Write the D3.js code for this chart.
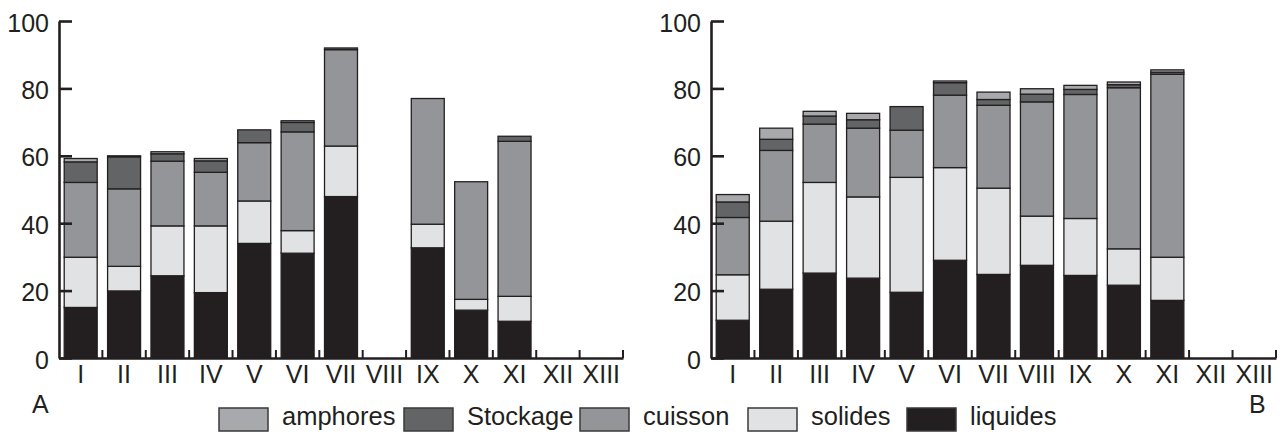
<!DOCTYPE html>
<html>
<head>
<meta charset="utf-8">
<script src="https://cdn.jsdelivr.net/npm/d3@7"></script>
<style>
  html, body { margin: 0; padding: 0; background: #fff; }
  svg { display: block; font-family: "Liberation Sans", Arial, sans-serif; }
</style>
</head>
<body>
<svg id="chart" width="1286" height="437"></svg>
<script>
// ---- data ----
const categories = ["I","II","III","IV","V","VI","VII","VIII","IX","X","XI","XII","XIII"];
const seriesNames = ["liquides","solides","cuisson","Stockage","amphores"];
const legendOrder = ["amphores","Stockage","cuisson","solides","liquides"];
const yTicks = [0,20,40,60,80,100];

// Panel A
const liquidesA = [15.0,19.9,24.4,19.4,34.0,31.1,47.9,0,32.7,14.2,10.9,0,0];
const solidesA  = [14.9, 7.3,14.8,19.8,12.6, 6.7,15.0,0, 7.0, 3.2, 7.4,0,0];
const cuissonA  = [22.2,23.0,19.2,15.9,17.3,29.3,28.6,0,37.3,34.9,46.0,0,0];
const stockageA = [ 6.1, 9.5, 2.2, 3.4, 3.8, 2.8, 0.5,0, 0, 0, 1.5,0,0];
const amphoresA = [ 1.0, 0.3, 0.6, 0.7, 0, 0.5, 0,0, 0, 0, 0,0,0];

// Panel B
const liquidesB = [11.2,20.4,25.2,23.7,19.5,29.0,24.8,27.5,24.5,21.6,17.1,0,0];
const solidesB  = [13.5,20.2,26.9,24.1,34.1,27.5,25.6,14.6,16.9,10.8,12.8,0,0];
const cuissonB  = [17.0,21.0,17.3,20.4,14.0,21.5,24.6,33.9,36.8,47.8,54.3,0,0];
const stockageB = [ 4.6, 3.3, 2.4, 2.5, 7.0, 3.7, 1.7, 2.3, 1.5, 0.9, 0.6,0,0];
const amphoresB = [ 2.2, 3.3, 1.4, 1.9, 0, 0.5, 2.2, 1.6, 1.2, 0.8, 0.7,0,0];

const colors = {
  liquides: "#231f20",
  solides: "#e1e2e3",
  cuisson: "#939598",
  Stockage: "#636466",
  amphores: "#a7a9ac"
};

function rows(l, s, c, st, a) {
  return categories.map((cat, i) => ({
    cat, liquides: l[i], solides: s[i], cuisson: c[i], Stockage: st[i], amphores: a[i]
  }));
}

const svg = d3.select("#chart");
const ink = "#231f20";
const fontSize = 25;

const y = d3.scaleLinear().domain([0, 100]).range([358, 21]);

function panel(data, x0, x1, label, labelX) {
  const x = d3.scaleBand().domain(categories).range([x0, x1])
    .paddingInner(0.24).paddingOuter(0.12);
  const step = x.step();
  const g = svg.append("g");

  const stacked = d3.stack().keys(seriesNames)(data);
  g.selectAll("g.layer").data(stacked).join("g")
    .attr("class", "layer")
    .attr("fill", d => colors[d.key])
    .selectAll("rect")
    .data(d => d.filter(p => p[1] - p[0] > 0))
    .join("rect")
    .attr("x", d => x(d.data.cat))
    .attr("width", x.bandwidth())
    .attr("y", d => y(d[1]))
    .attr("height", d => y(d[0]) - y(d[1]))
    .attr("stroke", ink)
    .attr("stroke-width", 1.3);

  // y axis
  const yAxis = d3.axisLeft(y).tickValues(yTicks).tickSizeInner(-13).tickSizeOuter(0).tickPadding(10);
  const ya = g.append("g").attr("transform", `translate(${x0},0)`).call(yAxis);
  ya.select(".domain").attr("stroke", ink).attr("stroke-width", 2.6);
  ya.selectAll(".tick line").attr("stroke", ink).attr("stroke-width", 2.6);
  ya.selectAll(".tick text").attr("font-size", fontSize).attr("fill", ink)
    .attr("font-family", '"Liberation Sans", Arial, sans-serif').attr("dy", "0.4em");

  // x axis
  const xAxis = d3.axisBottom(x).tickSize(0).tickSizeOuter(0).tickPadding(7);
  const xa = g.append("g").attr("transform", `translate(0,${y(0)})`).call(xAxis);
  xa.select(".domain").attr("stroke", ink).attr("stroke-width", 2.6);
  xa.selectAll(".tick text").attr("font-size", fontSize).attr("fill", ink)
    .attr("font-family", '"Liberation Sans", Arial, sans-serif');

  // boundary ticks (upward)
  const bounds = d3.range(1, categories.length + 1);
  g.selectAll("line.bt").data(bounds).join("line")
    .attr("class", "bt")
    .attr("x1", i => x0 + i * step).attr("x2", i => x0 + i * step)
    .attr("y1", y(0)).attr("y2", y(0) - 8)
    .attr("stroke", ink).attr("stroke-width", 2);

  svg.append("text").attr("x", labelX).attr("y", 413)
    .attr("font-size", fontSize).attr("fill", ink).text(label);
}

panel(rows(liquidesA, solidesA, cuissonA, stockageA, amphoresA), 59, 623, "A", 32);
panel(rows(liquidesB, solidesB, cuissonB, stockageB, amphoresB), 711, 1276, "B", 1249);

// legend
const legendX = [219, 404, 580, 748, 907];
const lg = svg.append("g");
legendOrder.forEach((k, i) => {
  lg.append("rect").attr("x", legendX[i]).attr("y", 408).attr("width", 49).attr("height", 23)
    .attr("fill", colors[k]).attr("stroke", "#3a3a3a").attr("stroke-width", 1.5);
  lg.append("text").attr("x", legendX[i] + 63).attr("y", 425)
    .attr("font-size", 25.5).attr("fill", ink).text(k);
});
</script>
</body>
</html>
